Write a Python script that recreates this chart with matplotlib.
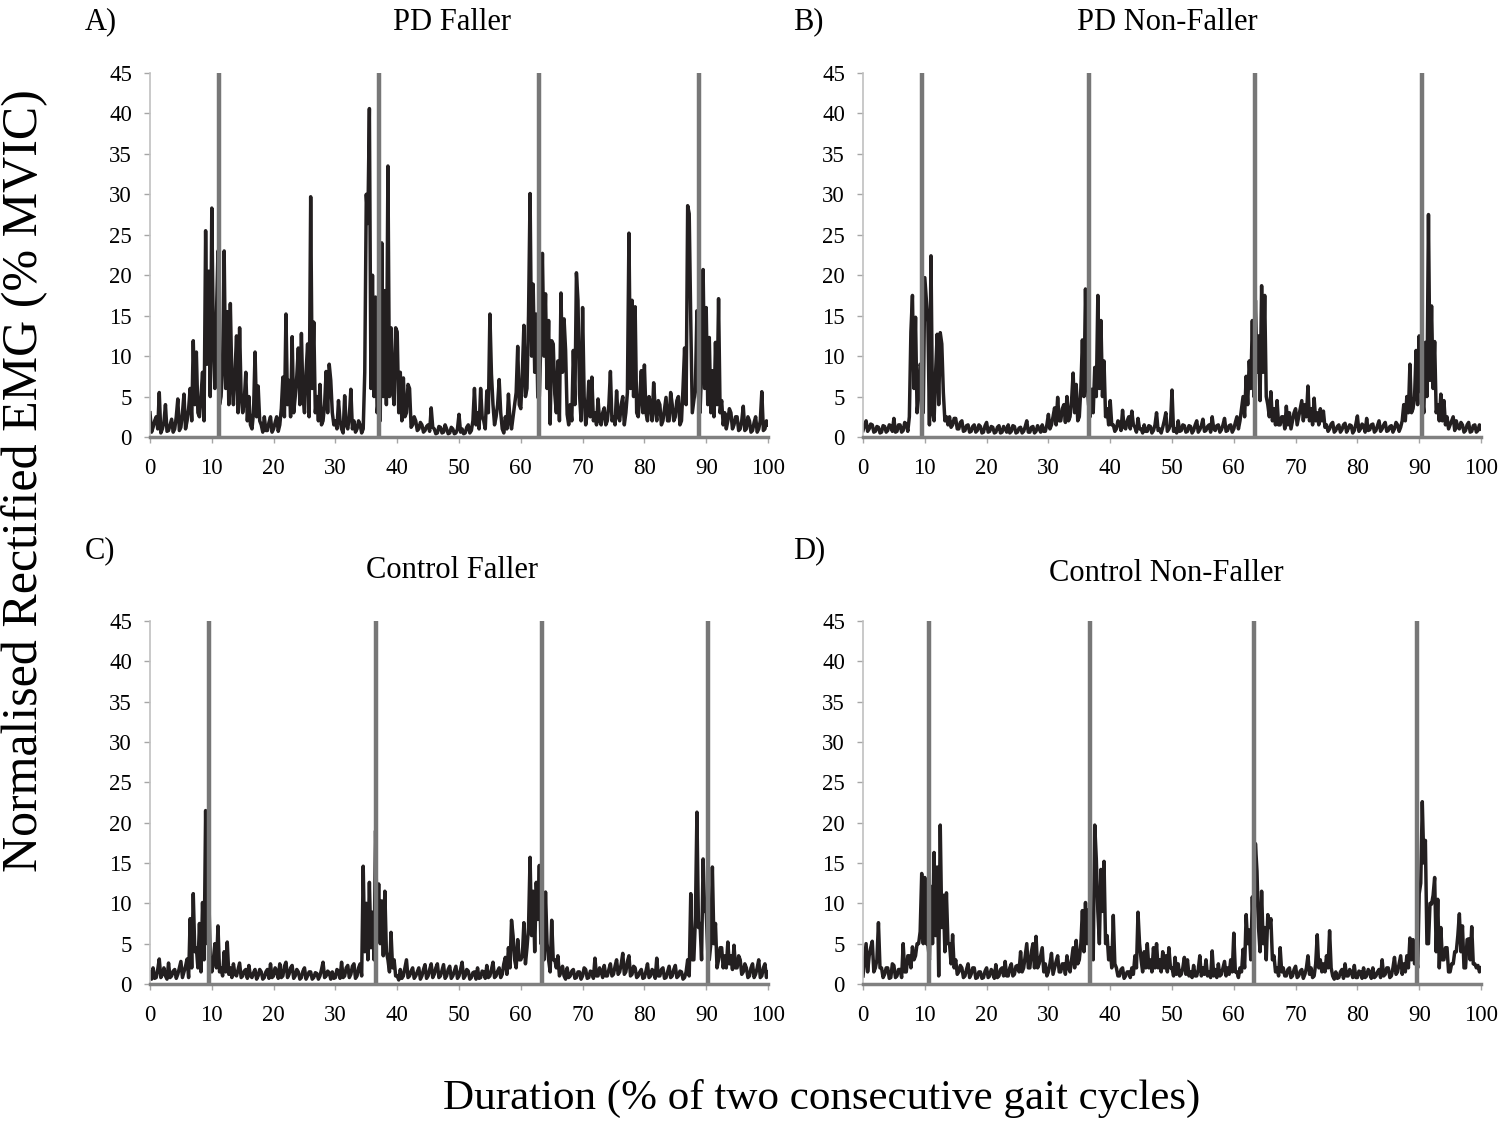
import numpy as np
import matplotlib
matplotlib.use("Agg")
import matplotlib.pyplot as plt

plt.rcParams['font.family'] = ['Liberation Serif', 'DejaVu Serif']

# EMG traces, one value every 0.25 % of the two gait cycles
pd_faller = [
    3.0, 0.6, 1.2, 2.0, 2.5, 1.0, 5.5, 0.5, 1.0, 1.8, 4.0, 0.7, 0.8, 1.5, 2.2, 0.6, 1.0, 2.5, 4.7, 0.8,
    1.2, 3.0, 5.3, 1.0, 2.0, 3.5, 6.0, 2.0, 11.9, 4.0, 10.5, 3.0, 2.5, 5.0, 8.0, 2.0, 25.5, 9.0, 20.5, 5.0,
    28.3, 12.0, 6.0, 15.0, 23.0, 4.0, 5.0, 9.0, 23.0, 6.0, 15.5, 4.0, 16.5, 7.0, 4.0, 8.0, 12.5, 3.0, 13.5, 5.0,
    3.0, 4.5, 8.0, 2.0, 5.0, 1.5, 1.0, 3.0, 10.5, 2.5, 6.3, 2.0, 1.5, 0.6, 2.5, 0.8, 0.8, 1.8, 2.5, 0.6,
    1.0, 1.8, 2.5, 0.7, 1.5, 3.5, 7.4, 2.5, 15.2, 4.0, 7.0, 2.5, 12.4, 3.0, 5.0, 7.5, 11.0, 4.0, 12.8, 5.0,
    3.0, 8.0, 11.5, 2.5, 29.7, 6.0, 14.2, 3.0, 5.0, 2.0, 6.5, 1.5, 2.0, 4.0, 8.1, 3.0, 9.0, 7.0, 3.0, 1.5,
    2.0, 1.0, 4.5, 2.0, 1.0, 0.5, 5.1, 1.5, 1.0, 2.5, 5.9, 1.0, 2.0, 0.6, 1.0, 2.0, 1.5, 0.5, 1.0, 8.0,
    30.0, 26.4, 40.6, 6.0, 20.0, 5.0, 17.3, 3.0, 5.0, 2.0, 24.0, 5.0, 18.1, 4.0, 33.5, 5.0, 13.5, 6.0, 4.0, 13.5,
    13.0, 3.0, 8.0, 2.0, 7.3, 2.5, 3.0, 6.5, 6.0, 1.2, 1.5, 2.5, 2.0, 0.8, 1.0, 1.8, 1.5, 0.6, 0.8, 1.3,
    1.5, 0.7, 3.6, 1.2, 1.0, 0.4, 0.5, 1.3, 1.2, 0.5, 0.6, 1.5, 1.0, 0.4, 0.5, 1.2, 1.0, 0.4, 0.5, 1.0,
    2.8, 0.6, 1.0, 0.4, 0.5, 1.2, 1.5, 0.5, 0.8, 2.0, 6.0, 1.5, 3.0, 1.0, 6.0, 2.5, 2.0, 1.0, 5.7, 3.0,
    15.2, 7.8, 4.0, 1.5, 2.5, 4.0, 7.1, 3.0, 1.0, 0.5, 2.5, 1.0, 5.3, 2.0, 1.0, 2.5, 4.0, 5.5, 11.2, 4.0,
    3.5, 8.0, 13.8, 5.0, 6.0, 15.0, 30.1, 10.0, 18.9, 8.0, 15.2, 4.9, 5.0, 12.0, 22.7, 10.0, 17.7, 6.0, 14.4, 1.6,
    11.9, 11.5, 5.3, 3.0, 9.4, 2.0, 17.8, 8.0, 14.6, 10.7, 2.8, 1.5, 4.0, 2.0, 10.7, 4.0, 20.3, 16.9, 5.3, 2.0,
    16.0, 5.0, 1.5, 3.0, 6.9, 2.5, 7.4, 2.0, 3.0, 1.5, 4.7, 2.0, 1.5, 3.0, 3.6, 1.5, 2.0, 4.0, 8.1, 2.0,
    2.5, 1.5, 5.7, 2.5, 2.0, 4.0, 5.0, 1.5, 3.0, 5.5, 25.2, 6.0, 16.9, 5.0, 16.1, 3.0, 2.5, 5.0, 8.2, 3.0,
    8.9, 3.0, 2.0, 5.0, 4.0, 2.0, 6.7, 3.5, 2.0, 4.5, 4.0, 1.5, 2.0, 3.5, 4.9, 2.0, 2.0, 5.5, 4.0, 2.0,
    2.5, 4.5, 5.0, 1.5, 2.0, 6.1, 11.0, 4.0, 28.6, 27.6, 14.4, 3.0, 4.5, 6.0, 15.6, 5.0, 3.0, 8.0, 20.7, 6.0,
    16.0, 4.0, 12.3, 3.0, 8.2, 2.5, 11.7, 4.0, 17.1, 3.0, 4.5, 1.5, 3.0, 1.0, 2.0, 3.5, 3.0, 1.0, 1.5, 2.5,
    2.5, 0.8, 1.0, 2.0, 3.8, 0.8, 1.0, 2.5, 2.0, 0.6, 0.8, 1.8, 2.5, 0.6, 1.0, 2.0, 5.6, 0.8, 1.0, 2.0,
    1.5,
]
pd_non_faller = [
    0.8, 1.5, 2.0, 0.7, 1.0, 1.6, 1.5, 0.6, 0.7, 1.3, 1.2, 0.5, 0.6, 1.4, 1.3, 0.6, 0.8, 1.5, 1.4, 0.7,
    2.3, 0.6, 0.7, 1.5, 1.5, 0.6, 0.8, 1.8, 1.6, 0.7, 2.5, 13.0, 17.5, 6.0, 14.8, 3.0, 5.0, 9.0, 8.4, 3.0,
    19.7, 17.0, 14.2, 1.5, 22.4, 3.0, 2.0, 8.0, 12.7, 4.0, 12.9, 11.5, 5.5, 2.0, 2.5, 1.5, 2.5, 1.2, 1.5, 2.3,
    2.3, 1.0, 1.0, 1.8, 2.0, 0.7, 0.8, 1.4, 1.5, 0.6, 0.7, 1.3, 1.5, 0.6, 0.8, 1.5, 1.3, 0.5, 0.6, 1.4,
    1.8, 0.6, 0.7, 1.3, 1.2, 0.5, 0.6, 1.2, 1.4, 0.5, 0.6, 1.3, 1.0, 0.6, 1.5, 0.5, 0.7, 1.4, 1.3, 0.5,
    0.6, 1.1, 1.2, 0.5, 0.7, 1.3, 2.0, 0.6, 0.6, 1.2, 1.3, 0.5, 0.7, 1.4, 1.0, 0.6, 1.5, 0.7, 0.7, 1.5,
    2.8, 1.0, 1.5, 2.5, 3.6, 1.5, 4.9, 2.0, 2.0, 3.5, 4.0, 1.8, 5.0, 2.0, 2.5, 4.5, 7.9, 3.0, 6.5, 2.0,
    2.5, 6.0, 12.0, 5.0, 18.3, 7.0, 4.0, 2.5, 5.9, 3.0, 8.6, 5.0, 17.5, 6.0, 14.4, 5.0, 9.4, 2.5, 3.5, 1.5,
    4.5, 1.5, 1.5, 0.7, 1.0, 2.0, 1.8, 0.8, 3.3, 1.2, 1.0, 2.0, 2.5, 1.0, 3.2, 1.5, 1.2, 0.6, 2.3, 1.0,
    1.0, 0.5, 1.5, 0.7, 0.7, 1.4, 1.3, 0.5, 0.8, 1.5, 3.0, 0.8, 1.0, 0.5, 1.2, 2.0, 3.0, 0.7, 1.0, 1.5,
    5.8, 0.7, 1.0, 0.5, 2.0, 0.7, 0.8, 1.5, 1.4, 0.6, 0.7, 1.4, 1.3, 0.5, 0.8, 1.5, 2.0, 0.6, 0.9, 1.4,
    2.2, 0.7, 0.8, 1.3, 1.5, 0.6, 2.5, 1.0, 0.8, 1.4, 1.5, 0.6, 0.9, 1.5, 2.3, 0.7, 0.8, 1.4, 1.5, 0.6,
    1.0, 1.8, 2.5, 1.0, 2.0, 3.5, 5.0, 2.5, 7.5, 4.0, 9.4, 6.0, 14.4, 5.0, 16.9, 8.0, 12.5, 4.5, 18.7, 8.0,
    17.5, 5.0, 4.0, 2.5, 5.6, 2.0, 3.5, 1.5, 4.5, 1.5, 1.5, 2.5, 2.5, 1.0, 3.8, 1.5, 3.0, 1.0, 2.0, 3.0,
    3.5, 1.5, 2.5, 3.5, 4.5, 2.0, 4.0, 2.5, 6.3, 2.0, 3.5, 1.5, 4.8, 2.0, 3.0, 1.5, 3.5, 2.0, 3.2, 1.2,
    1.5, 0.7, 1.0, 1.6, 1.8, 0.6, 0.8, 1.3, 1.5, 0.6, 0.9, 1.5, 1.7, 0.6, 1.0, 1.5, 1.4, 0.5, 0.8, 1.6,
    2.6, 0.7, 1.0, 1.6, 1.4, 0.6, 2.3, 0.8, 0.9, 1.5, 1.6, 0.6, 0.8, 1.4, 2.0, 0.7, 1.0, 1.5, 1.8, 0.7,
    0.8, 1.3, 1.4, 0.6, 1.0, 1.8, 1.5, 0.7, 1.2, 2.0, 4.0, 2.0, 5.0, 3.0, 9.0, 3.0, 3.5, 5.0, 10.7, 4.0,
    12.5, 6.0, 5.0, 3.0, 11.7, 5.0, 27.5, 7.0, 16.2, 6.0, 11.8, 3.0, 4.0, 2.0, 5.3, 2.0, 4.5, 1.5, 2.5, 1.0,
    1.5, 2.0, 2.5, 0.8, 2.0, 1.2, 1.0, 1.8, 1.5, 0.6, 0.8, 1.5, 1.8, 0.6, 0.7, 1.4, 1.5, 0.6, 0.8, 1.5,
    1.0,
]
control_faller = [
    1.5, 0.6, 2.0, 0.7, 0.8, 1.8, 3.1, 0.8, 1.2, 2.0, 1.0, 0.6, 2.6, 0.8, 1.0, 1.6, 1.8, 0.7, 1.2, 2.0,
    2.8, 0.8, 1.5, 2.2, 3.1, 0.8, 8.1, 2.0, 11.2, 4.0, 4.5, 2.0, 7.5, 1.5, 10.1, 3.0, 21.5, 5.0, 11.8, 3.0,
    1.5, 3.0, 5.0, 2.0, 7.2, 1.5, 2.0, 1.0, 4.0, 1.5, 5.2, 1.2, 2.0, 0.8, 2.5, 1.2, 1.0, 1.8, 2.6, 0.8,
    1.0, 1.6, 1.8, 0.7, 2.3, 1.0, 0.8, 1.4, 1.8, 0.6, 1.0, 1.8, 1.5, 0.6, 0.8, 1.5, 1.8, 0.7, 2.5, 0.8,
    1.0, 2.0, 1.6, 0.7, 2.5, 0.8, 1.0, 2.2, 2.7, 0.8, 1.2, 2.0, 2.3, 0.7, 1.0, 1.8, 1.5, 0.6, 0.8, 1.6,
    2.0, 0.6, 1.0, 1.5, 1.5, 0.6, 0.8, 1.4, 1.3, 0.6, 1.0, 1.8, 2.7, 0.8, 1.0, 1.6, 1.4, 0.6, 1.5, 0.7,
    0.8, 1.8, 1.6, 0.7, 2.7, 0.8, 1.0, 2.0, 2.3, 0.8, 1.2, 2.2, 2.5, 0.7, 1.0, 2.0, 2.5, 1.0, 14.6, 4.0,
    10.0, 3.0, 12.6, 4.5, 8.9, 3.0, 19.0, 6.0, 12.4, 5.0, 10.3, 3.5, 11.5, 4.0, 3.0, 1.5, 6.4, 2.0, 3.0, 1.0,
    1.0, 0.5, 1.8, 0.7, 1.0, 2.0, 3.0, 0.8, 1.0, 1.6, 2.0, 0.7, 1.0, 1.5, 2.0, 0.6, 1.0, 1.8, 2.4, 0.7,
    1.0, 1.8, 2.5, 0.8, 1.2, 2.0, 2.5, 0.8, 1.0, 1.7, 2.4, 0.7, 1.0, 1.8, 2.2, 0.7, 1.0, 1.6, 2.2, 0.7,
    1.0, 1.8, 2.7, 0.7, 1.0, 1.8, 1.6, 0.6, 0.8, 1.4, 1.5, 0.6, 2.0, 0.7, 0.8, 1.6, 1.5, 0.7, 2.3, 0.8,
    1.0, 1.8, 2.7, 0.8, 1.0, 1.6, 2.0, 0.8, 1.2, 2.5, 3.3, 1.2, 4.5, 2.0, 7.9, 6.0, 3.0, 2.0, 5.5, 3.0,
    3.0, 3.5, 7.6, 2.5, 4.5, 7.0, 15.7, 6.0, 11.5, 4.0, 12.6, 8.0, 14.7, 5.0, 6.0, 3.0, 11.4, 5.0, 3.0, 1.5,
    7.9, 3.0, 3.0, 2.0, 3.5, 1.0, 1.5, 2.2, 1.0, 0.6, 2.0, 0.8, 1.0, 1.6, 1.8, 0.7, 0.8, 1.5, 1.5, 0.6,
    1.0, 2.0, 1.8, 0.7, 0.8, 1.6, 1.5, 0.7, 3.2, 1.0, 1.0, 2.0, 1.5, 0.8, 2.3, 1.0, 1.0, 1.8, 2.5, 1.0,
    1.2, 2.2, 3.0, 1.2, 1.5, 2.5, 3.8, 1.2, 1.5, 2.8, 3.5, 1.0, 1.2, 2.2, 2.0, 0.8, 1.0, 1.5, 1.8, 0.7,
    0.8, 1.6, 2.5, 0.8, 1.0, 1.8, 1.5, 0.7, 3.2, 1.0, 1.0, 1.8, 2.0, 0.7, 0.8, 1.5, 2.2, 0.8, 1.0, 1.8,
    2.3, 0.8, 1.0, 1.6, 1.5, 0.6, 0.8, 1.5, 3.0, 1.0, 11.2, 3.0, 3.0, 8.0, 21.3, 7.0, 7.5, 3.0, 15.5, 9.0,
    9.0, 4.0, 3.0, 5.0, 14.5, 5.0, 7.5, 2.0, 3.0, 4.5, 4.5, 2.0, 3.5, 2.0, 5.2, 2.5, 3.5, 1.8, 4.8, 2.0,
    2.0, 3.5, 3.0, 1.2, 1.5, 2.5, 2.0, 0.8, 1.0, 2.0, 2.5, 0.8, 1.2, 2.0, 3.0, 0.8, 1.0, 2.0, 2.5, 0.8,
    1.5,
]
control_non_faller = [
    1.0, 3.0, 5.0, 1.5, 3.5, 4.5, 5.3, 1.5, 2.0, 3.0, 7.6, 2.0, 2.0, 0.8, 1.2, 2.0, 2.0, 0.7, 0.8, 2.5,
    2.3, 0.8, 1.0, 1.8, 1.8, 0.8, 5.0, 1.5, 1.5, 3.5, 3.5, 2.0, 4.6, 3.0, 3.5, 5.0, 5.0, 6.5, 13.7, 5.0,
    13.2, 5.0, 5.0, 3.0, 12.1, 5.0, 16.3, 6.0, 14.5, 1.0, 19.7, 7.0, 11.0, 4.0, 11.3, 5.0, 5.0, 2.5, 6.1, 2.0,
    3.0, 1.2, 1.5, 2.3, 2.0, 0.8, 1.0, 1.8, 2.5, 0.8, 1.2, 2.0, 2.0, 0.7, 0.8, 1.5, 1.5, 0.7, 0.8, 1.6,
    2.0, 0.8, 1.0, 1.8, 1.5, 0.7, 2.4, 0.8, 1.0, 1.8, 2.0, 1.0, 2.8, 1.0, 1.0, 2.0, 2.5, 1.0, 1.2, 2.2,
    2.3, 1.5, 4.0, 1.5, 2.0, 3.5, 5.0, 2.0, 2.0, 4.0, 5.0, 2.0, 5.9, 2.0, 2.5, 3.5, 4.5, 1.5, 2.5, 1.0,
    1.5, 2.5, 3.8, 1.2, 2.0, 2.8, 3.5, 1.5, 1.5, 2.5, 2.5, 1.2, 3.5, 2.0, 1.5, 3.0, 4.5, 2.0, 5.4, 2.5,
    3.0, 5.0, 9.1, 4.0, 10.1, 5.0, 9.2, 4.0, 6.0, 3.0, 19.7, 15.5, 9.0, 5.0, 14.2, 9.0, 15.2, 5.0, 6.0, 3.0,
    4.5, 2.0, 8.5, 2.5, 2.0, 1.0, 1.0, 1.8, 2.0, 0.7, 1.0, 1.5, 1.5, 0.8, 2.0, 1.2, 3.5, 2.0, 8.9, 5.0,
    3.0, 1.5, 4.0, 2.0, 5.0, 2.0, 3.0, 1.5, 4.5, 2.0, 5.0, 2.0, 3.0, 1.5, 4.0, 2.0, 3.5, 1.5, 4.5, 2.0,
    2.0, 1.0, 3.3, 1.2, 2.5, 1.0, 1.2, 2.0, 3.3, 1.2, 3.0, 1.0, 1.5, 0.8, 2.3, 1.0, 1.0, 1.8, 3.5, 1.0,
    2.0, 1.2, 3.0, 1.0, 1.5, 0.8, 4.1, 1.0, 1.8, 0.8, 2.5, 1.0, 1.2, 2.0, 2.8, 1.0, 2.0, 1.2, 3.0, 1.5,
    6.3, 1.5, 1.5, 0.8, 2.0, 1.5, 4.3, 2.0, 8.6, 5.0, 6.7, 3.0, 10.8, 5.0, 17.4, 14.0, 7.0, 4.0, 11.5, 5.0,
    7.0, 3.0, 8.6, 7.0, 8.1, 3.0, 3.5, 1.5, 2.0, 1.0, 4.5, 1.5, 2.0, 1.0, 1.0, 1.8, 2.0, 0.8, 1.0, 1.8,
    2.2, 0.8, 1.0, 1.6, 1.8, 0.7, 1.2, 2.0, 3.5, 1.2, 2.0, 0.8, 1.0, 2.5, 6.1, 2.0, 3.0, 1.5, 2.5, 1.5,
    3.5, 2.0, 6.6, 2.0, 1.0, 0.6, 1.5, 0.7, 0.8, 1.5, 1.8, 0.7, 2.5, 1.0, 1.0, 1.8, 1.5, 0.8, 2.3, 0.8,
    0.8, 1.6, 1.5, 0.7, 2.0, 0.8, 1.0, 1.8, 1.5, 0.7, 2.0, 0.8, 1.0, 1.5, 1.8, 0.8, 3.0, 1.0, 1.2, 2.0,
    2.0, 0.8, 1.0, 2.0, 3.3, 1.2, 1.5, 2.5, 3.5, 1.2, 2.5, 1.5, 3.5, 2.0, 5.7, 3.0, 5.5, 2.5, 4.0, 2.0,
    11.2, 12.5, 22.6, 15.0, 17.8, 5.0, 5.0, 10.0, 9.9, 11.0, 13.2, 4.0, 10.5, 2.0, 7.0, 3.0, 3.0, 4.5, 4.5, 1.5,
    1.5, 2.5, 2.5, 4.0, 4.0, 6.0, 8.7, 4.0, 7.2, 2.0, 2.0, 5.5, 5.6, 3.0, 7.1, 2.5, 2.5, 2.0, 2.3, 1.5,
    2.0,
]

# gait event markers (% of two gait cycles)
events_pd_faller = [11.1, 37.1, 62.9, 88.8]
events_pd_non_faller = [9.6, 36.6, 63.5, 90.4]
events_control_faller = [9.6, 36.5, 63.4, 90.3]
events_control_non_faller = [10.6, 36.8, 63.2, 89.6]

titles = ["PD Faller", "PD Non-Faller", "Control Faller", "Control Non-Faller"]
letters = ["A)", "B)", "C)", "D)"]

W, H = 1502, 1124
fig = plt.figure(figsize=(W / 100, H / 100), dpi=100)


def px_axes(left, top, right, bottom):
    return fig.add_axes([left / W, 1 - bottom / H, (right - left) / W, (bottom - top) / H])


def draw_panel(ax, values, events):
    x = np.linspace(0, 100, len(values))
    ax.plot(x, values, color='#231f20', lw=2.5, zorder=2)
    for e in events:
        ax.axvline(e, color='#777777', lw=3.2, zorder=3)
    ax.set_xlim(0, 100)
    ax.set_ylim(0, 45)
    ax.set_xticks(range(0, 101, 10))
    ax.set_yticks(range(0, 46, 5))
    for s in ['top', 'right']:
        ax.spines[s].set_visible(False)
    ax.spines['left'].set_color('#c0c0c0')
    ax.spines['left'].set_linewidth(1.2)
    ax.spines['bottom'].set_color('#808080')
    ax.spines['bottom'].set_linewidth(2.5)
    ax.spines['bottom'].set_zorder(4)
    ax.tick_params(direction='out', length=4, width=1, color='#a6a6a6', labelsize=16.5)
    ax.tick_params(axis='x', pad=11)
    ax.tick_params(axis='y', pad=9)


# layout in pixels of the reference
boxes = [(150, 73, 768, 437), (863, 73, 1481, 437), (150, 621, 768, 984), (863, 621, 1481, 984)]
title_xy = [(452, 23), (1167, 23), (452, 571), (1166, 573)]
letter_xy = [(85, 22), (793, 22), (85, 551), (793, 551)]

series = [pd_faller, pd_non_faller, control_faller, control_non_faller]
events = [events_pd_faller, events_pd_non_faller, events_control_faller, events_control_non_faller]

for i in range(4):
    ax = px_axes(*boxes[i])
    draw_panel(ax, series[i], events[i])
    tx, ty = title_xy[i]
    fig.text(tx / W, 1 - ty / H, titles[i], ha='center', va='center', fontsize=22)
    lx, ly = letter_xy[i]
    fig.text(lx / W, 1 - ly / H, letters[i], ha='left', va='center', fontsize=22)

fig.text(25 / W, 1 - 481 / H, "Normalised Rectified EMG (% MVIC)", rotation=90,
         ha='center', va='center', fontsize=36)
fig.text(822 / W, 1 - 1098 / H, "Duration (% of two consecutive gait cycles)",
         ha='center', va='center', fontsize=31)

fig.savefig("out.png", dpi=100, facecolor='white')
